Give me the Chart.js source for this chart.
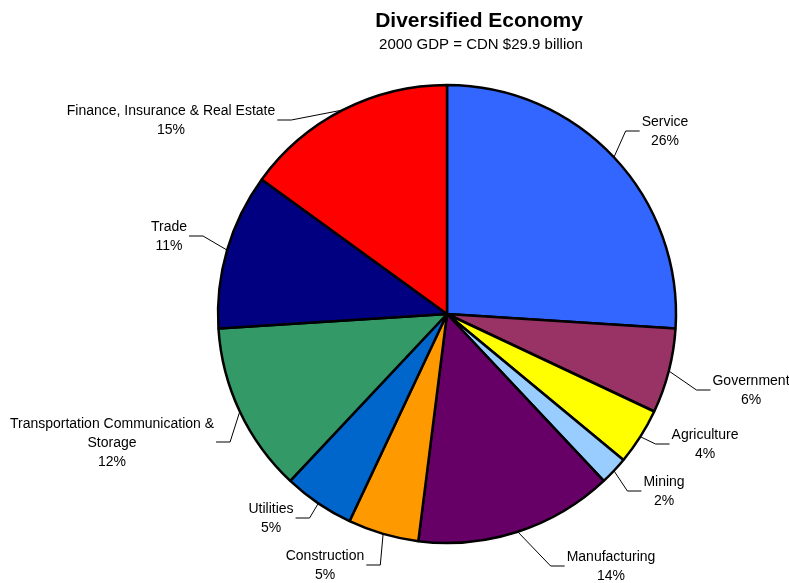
<!DOCTYPE html>
<html>
<head>
<meta charset="utf-8">
<script src="https://cdn.jsdelivr.net/npm/chart.js@4"></script>
<style>
  html, body { margin: 0; padding: 0; background: #fff; }
  #wrap { width: 789px; height: 583px; }
</style>
</head>
<body>
<div id="wrap"><canvas id="pieChart" width="789" height="583"></canvas></div>
<script>
/* ----- dados ----- */
const categories = [
  ['Service'],
  ['Government'],
  ['Agriculture'],
  ['Mining'],
  ['Manufacturing'],
  ['Construction'],
  ['Utilities'],
  ['Transportation Communication &', 'Storage'],
  ['Trade'],
  ['Finance, Insurance & Real Estate']
];
const shares = [26, 6, 4, 2, 14, 5, 5, 12, 11, 15];

const sliceColors = [
  '#3366FF', '#993366', '#FFFF00', '#99CCFF', '#660066',
  '#FF9900', '#0066CC', '#339966', '#000080', '#FF0000'
];

// posição do bloco de rótulo relativa ao centro da pizza (px)
const labelOffsets = [
  [218, -182], [304, 77], [258, 131], [217, 178], [164, 253],
  [-122, 252], [-176, 205], [-335, 129], [-278, -77], [-276, -193]
];

const FONT = '"Liberation Sans", Arial, sans-serif';

/* ----- plugin: título e rótulos com linhas guia ----- */
const labelsPlugin = {
  id: 'pieLabels',
  afterDatasetsDraw(chart) {
    const ctx = chart.ctx;
    const meta = chart.getDatasetMeta(0);
    const total = shares.reduce((a, b) => a + b, 0);

    ctx.save();
    // título
    ctx.fillStyle = '#000';
    ctx.textAlign = 'center';
    ctx.textBaseline = 'middle';
    ctx.font = 'bold 21px ' + FONT;
    ctx.fillText('Diversified Economy', 479, 21);
    ctx.font = '15px ' + FONT;
    ctx.fillText('2000 GDP = CDN $29.9 billion', 481, 45);

    meta.data.forEach((arc, i) => {
      const cx = arc.x, cy = arc.y;
      const r = arc.outerRadius;
      const mid = (arc.startAngle + arc.endAngle) / 2;
      const ax = cx + Math.cos(mid) * r;
      const ay = cy + Math.sin(mid) * r;

      const lines = categories[i].concat([Math.round(shares[i] / total * 100) + '%']);
      const lh = 19;
      const bx = cx + labelOffsets[i][0];
      const by = cy + labelOffsets[i][1];

      ctx.font = '14px ' + FONT;
      const w = Math.max(...lines.map(l => ctx.measureText(l).width));
      const right = bx > cx;
      const edge = right ? bx - w / 2 - 2 : bx + w / 2 + 2;
      const elbow = right ? edge - 14 : edge + 14;
      const hy = by - 1;

      ctx.strokeStyle = '#000';
      ctx.lineWidth = 1;
      ctx.beginPath();
      ctx.moveTo(ax, ay);
      ctx.lineTo(elbow, hy);
      ctx.lineTo(edge, hy);
      ctx.stroke();

      ctx.fillStyle = '#000';
      const top = by - (lines.length - 1) * lh / 2;
      lines.forEach((l, k) => ctx.fillText(l, bx, top + k * lh));
    });
    ctx.restore();
  }
};

new Chart(document.getElementById('pieChart'), {
  type: 'pie',
  data: {
    labels: categories.map(c => c.join(' ')),
    datasets: [{
      data: shares,
      backgroundColor: sliceColors,
      borderColor: '#000',
      borderWidth: 2.5
    }]
  },
  options: {
    responsive: false,
    animation: false,
    radius: 229,
    layout: { padding: { left: 110, right: 5, top: 50, bottom: 5 } },
    plugins: {
      legend: { display: false },
      tooltip: { enabled: false },
      title: { display: false }
    }
  },
  plugins: [labelsPlugin]
});
</script>
</body>
</html>
